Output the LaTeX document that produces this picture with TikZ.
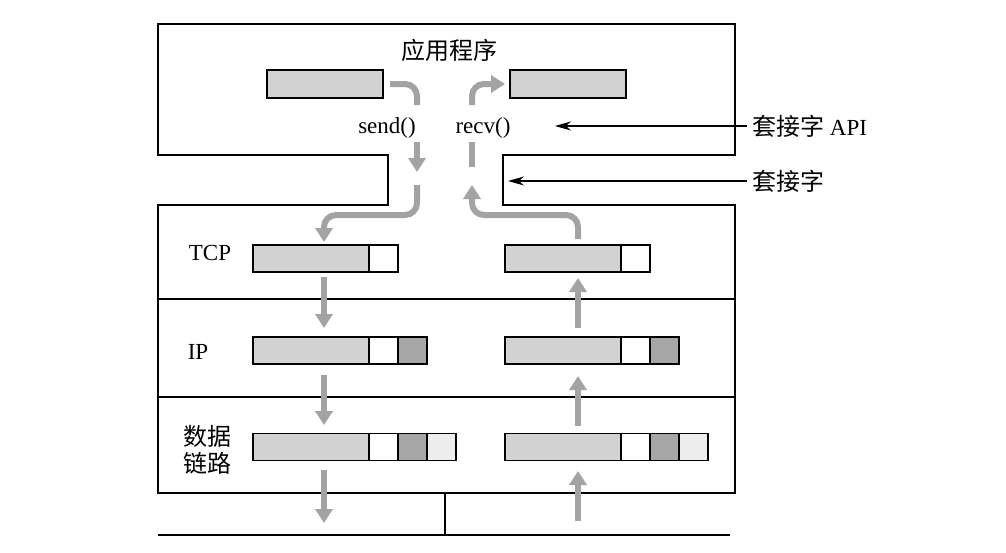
\documentclass[tikz,border=0pt]{standalone}
\usepackage{fontspec}
\setmainfont{Liberation Serif}
\newfontfamily\cjk{Noto Sans CJK SC}
\usetikzlibrary{arrows.meta}
\definecolor{flow}{HTML}{A3A3A3}
\definecolor{bufgray}{HTML}{D2D2D2}
\definecolor{hdrdark}{HTML}{A6A6A6}
\definecolor{hdrlight}{HTML}{EDEDED}
\begin{document}
\begin{tikzpicture}[x=1pt,y=-1pt,
  outline/.style={line width=2.2pt},
  seg/.style={draw, line width=1.8pt, minimum height=27pt, inner sep=0pt, outer sep=0pt, anchor=west},
  payload/.style={seg, fill=bufgray, minimum width=116pt},
  hwhite/.style={seg, fill=white, minimum width=29pt},
  hdark/.style={seg, fill=hdrdark, minimum width=29pt},
  hlight/.style={seg, fill=hdrlight, minimum width=29pt},
  flowarrow/.style={draw=flow, line width=6pt, rounded corners=12pt, -{Triangle[width=17pt,length=14pt]}},
  flowline/.style={draw=flow, line width=6pt, rounded corners=12pt},
  pointer/.style={line width=1.2pt, -{Stealth[length=16pt,width=9pt]}},
  lbl/.style={font=\fontsize{23}{27}\selectfont, inner sep=0pt},
  cjklbl/.style={font=\fontsize{24}{27}\selectfont\cjk, inner sep=0pt},
]
\useasboundingbox (0,0) rectangle (1006,552);
\fill[white] (0,0) rectangle (1006,552);

% outline of application + stack
\draw[outline] (158,24) -- (735,24) -- (735,155) -- (503,155) -- (503,205) -- (735,205)
  -- (735,493) -- (158,493) -- (158,205) -- (388,205) -- (388,155) -- (158,155) -- cycle;
\draw[outline] (158,299) -- (735,299);
\draw[outline] (158,397) -- (735,397);
% network
\coordinate (netL) at (158,535);
\coordinate (netR) at (730,535);
\coordinate (stubT) at (445,493);
\coordinate (stubB) at (445,535);
\draw[outline] (netL) -- (netR);
\draw[outline] (stubT) -- (stubB);

% application buffers
\node[payload, minimum height=28pt] (appL) at (267,84) {};
\node[payload, minimum height=28pt] (appR) at (510,84) {};

% TCP buffers
\node[payload] (tcpLp) at (253,258.5) {};
\node[hwhite] (tcpLh) at (tcpLp.east) {};
\node[payload] (tcpRp) at (505,258.5) {};
\node[hwhite] (tcpRh) at (tcpRp.east) {};

% IP buffers
\node[payload] (ipLp) at (253,350.5) {};
\node[hwhite] (ipLh) at (ipLp.east) {};
\node[hdark] (ipLi) at (ipLh.east) {};
\node[payload] (ipRp) at (505,350.5) {};
\node[hwhite] (ipRh) at (ipRp.east) {};
\node[hdark] (ipRi) at (ipRh.east) {};

% data link buffers
\node[payload] (dlLp) at (253,447) {};
\node[hwhite] (dlLh) at (dlLp.east) {};
\node[hdark] (dlLi) at (dlLh.east) {};
\node[hlight] (dlLd) at (dlLi.east) {};
\node[payload] (dlRp) at (505,447) {};
\node[hwhite] (dlRh) at (dlRp.east) {};
\node[hdark] (dlRi) at (dlRh.east) {};
\node[hlight] (dlRd) at (dlRi.east) {};

% labels
\node[cjklbl] (app) at (449,50) {应用程序};
\node[lbl] (send) at (387,128) {send()};
\node[lbl] (recv) at (483,128) {recv()};
\node[lbl, anchor=west] (apiLbl) at (752,126) {{\fontsize{24}{27}\selectfont\cjk 套接字} API};
\node[cjklbl, anchor=west] (sockLbl) at (752,181) {套接字};
\node[lbl] (tcpLbl) at (210,253) {TCP};
\node[lbl] (ipLbl) at (198,352) {IP};
\node[cjklbl, align=center] (dlLbl) at (207,450) {数据\\链路};

% pointers
\coordinate (apiTip) at (555,126);
\coordinate (sockTip) at (508,181);
\draw[pointer] ([xshift=-5pt]apiLbl.west) -- (apiTip);
\draw[pointer] ([xshift=-5pt]sockLbl.west) -- (sockTip);

% send path
\coordinate (s0) at (390,84);
\coordinate (sA) at (417,105);
\coordinate (sB) at (417,142);
\coordinate (sC) at (417,172);
\coordinate (sD) at (417,185);
\coordinate (sE) at (324,242);
\draw[flowline] (s0) -| (sA);
\draw[flowarrow] (sB) -- (sC);
\draw[flowarrow] (sD) -- (417,215) -- (324,215) -- (sE);
\coordinate (d1a) at (324,277); \coordinate (d1b) at (324,328);
\coordinate (d2a) at (324,375); \coordinate (d2b) at (324,425);
\coordinate (d3a) at (324,470); \coordinate (d3b) at (324,523);
\draw[flowarrow] (d1a) -- (d1b);
\draw[flowarrow] (d2a) -- (d2b);
\draw[flowarrow] (d3a) -- (d3b);

% receive path
\coordinate (u1a) at (578,521); \coordinate (u1b) at (578,471);
\coordinate (u2a) at (578,426); \coordinate (u2b) at (578,376);
\coordinate (u3a) at (578,328); \coordinate (u3b) at (578,278);
\draw[flowarrow] (u1a) -- (u1b);
\draw[flowarrow] (u2a) -- (u2b);
\draw[flowarrow] (u3a) -- (u3b);
\coordinate (r0) at (578,239);
\coordinate (rA) at (472,185);
\coordinate (rB) at (472,167);
\coordinate (rC) at (472,142);
\coordinate (rD) at (472,105);
\coordinate (rE) at (505,84);
\draw[flowarrow] (r0) -- (578,215) -- (472,215) -- (rA);
\draw[flowline] (rB) -- (rC);
\draw[flowarrow] (rD) |- (rE);
\end{tikzpicture}
\end{document}
